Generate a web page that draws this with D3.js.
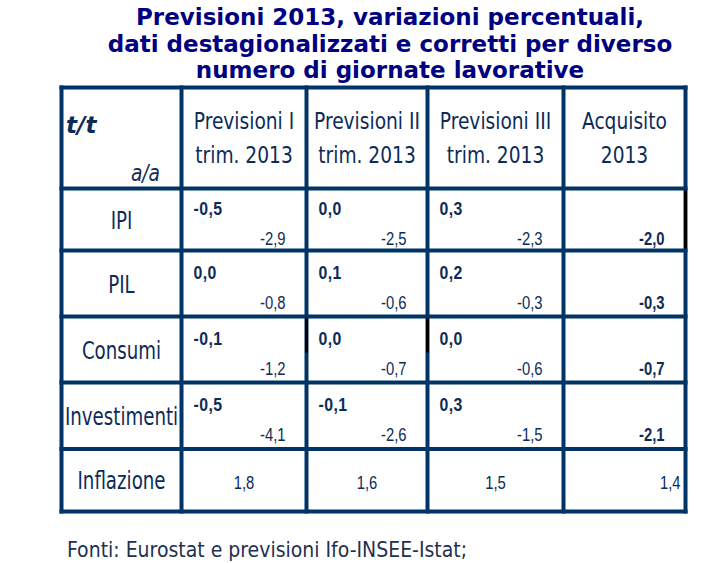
<!DOCTYPE html>
<html><head><meta charset="utf-8">
<script src="https://cdn.jsdelivr.net/npm/d3@7/dist/d3.min.js"></script>
<style>
html,body{margin:0;padding:0;background:#fff;}
svg{display:block;}
</style></head>
<body>
<svg id="chart" width="710" height="563"></svg>
<script>
// ---- data ----
const titleLines = ["Previsioni 2013, variazioni percentuali,", "dati destagionalizzati e corretti per diverso", "numero di giornate lavorative"];
const columnHeaders = [["Previsioni I", "trim. 2013"], ["Previsioni II", "trim. 2013"], ["Previsioni III", "trim. 2013"], ["Acquisito", "2013"]];
const rowLabels = ["IPI", "PIL", "Consumi", "Investimenti"];
const ttPrevI   = [-0.5, 0.0, -0.1, -0.5];
const ttPrevII  = [0.0, 0.1, 0.0, -0.1];
const ttPrevIII = [0.3, 0.2, 0.0, 0.3];
const aaPrevI   = [-2.9, -0.8, -1.2, -4.1];
const aaPrevII  = [-2.5, -0.6, -0.7, -2.6];
const aaPrevIII = [-2.3, -0.3, -0.6, -1.5];
const aaAcquisito = [-2.0, -0.3, -0.7, -2.1];
const inflazioneLabel = "Inflazione";
const inflazione = [1.8, 1.6, 1.5, 1.4];
const source = "Fonti: Eurostat e previsioni Ifo-INSEE-Istat;";

// ---- layout ----
const svg = d3.select("#chart");
const lineColor = "#003366";
const textColor = "#0d2b57";
const colEdges = [61.5, 181.5, 306.5, 427.5, 563.5, 685.5];
const rowEdges = [87.5, 188.5, 250.5, 316.5, 382.5, 449, 511.5];
const fmt = v => d3.format(".1f")(v).replace("\u2212", "-").replace(".", ",");
const colKeys = ["label", "c1", "c2", "c3", "c4"];
const rowKeys = ["head", "r0", "r1", "r2", "r3", "infl"];
const x = d3.scaleOrdinal().domain(colKeys).range(colEdges.slice(0, 5));
const xEnd = d3.scaleOrdinal().domain(colKeys).range(colEdges.slice(1));
const y = d3.scaleOrdinal().domain(rowKeys).range(rowEdges.slice(0, 6));
const yEnd = d3.scaleOrdinal().domain(rowKeys).range(rowEdges.slice(1));
const cx = k => (x(k) + xEnd(k)) / 2;
const cy = k => (y(k) + yEnd(k)) / 2;
const place = (px, py, sx) => `translate(${px},${py}) scale(${sx},1)`;

// title
svg.append("g").selectAll("text").data(titleLines).join("text")
  .attr("x", 390).attr("y", (d, i) => 25 + i * 26.5)
  .attr("text-anchor", "middle")
  .attr("font-family", "DejaVu Sans, Verdana, sans-serif")
  .attr("font-weight", "bold").attr("font-size", 23)
  .attr("fill", "#000080").text(d => d);

// grid lines
const grid = svg.append("g").attr("stroke", lineColor).attr("stroke-width", 4);
grid.selectAll("line.v").data(colEdges).join("line").attr("class", "v")
  .attr("x1", d => d).attr("x2", d => d).attr("y1", rowEdges[0] - 2).attr("y2", rowEdges[6] + 2);
grid.selectAll("line.h").data(rowEdges).join("line").attr("class", "h")
  .attr("y1", d => d).attr("y2", d => d).attr("x1", colEdges[0] - 2).attr("x2", colEdges[5] + 2);
// small black artefacts on borders
const blk = svg.append("g").attr("stroke", "#000").attr("stroke-width", 3);
blk.append("line").attr("x1", colEdges[5]).attr("x2", colEdges[5]).attr("y1", y("r0") + 2).attr("y2", yEnd("r0") - 2);
[colEdges[2], colEdges[3]].forEach(xx =>
  blk.append("line").attr("x1", xx).attr("x2", xx).attr("y1", y("r2") + 2).attr("y2", y("r2") + 36));

const tf = "DejaVu Sans Condensed, DejaVu Sans, sans-serif";
const nf = "Liberation Sans, Arial, sans-serif";

// header corner
svg.append("text").attr("transform", place(66, 133, 1))
  .attr("font-family", "DejaVu Sans, Verdana, sans-serif").attr("font-weight", "bold").attr("font-style", "italic")
  .attr("font-size", 23).attr("fill", textColor).text("t/t");
svg.append("text").attr("transform", place(160, 181, 0.9)).attr("text-anchor", "end")
  .attr("font-family", tf).attr("font-style", "italic")
  .attr("font-size", 23).attr("fill", textColor).text("a/a");

// column headers
const hg = svg.append("g");
columnHeaders.forEach((lines, i) => {
  const k = colKeys[i + 1];
  hg.selectAll(null).data(lines).join("text")
    .attr("transform", (d, j) => place(cx(k), 129 + j * 34, 0.9))
    .attr("text-anchor", "middle").attr("font-family", tf).attr("font-size", 23)
    .attr("fill", textColor).text(d => d);
});

// row labels
svg.append("g").selectAll("text").data(rowLabels.concat([inflazioneLabel])).join("text")
  .attr("transform", (d, i) => place(cx("label"), cy(rowKeys[i + 1]) + 9, 0.81))
  .attr("text-anchor", "middle").attr("font-family", tf).attr("font-size", 25)
  .attr("fill", textColor).text(d => d);

// t/t and a/a values
const ttCols = [ttPrevI, ttPrevII, ttPrevIII];
const aaCols = [aaPrevI, aaPrevII, aaPrevIII, aaAcquisito];
const vg = svg.append("g").attr("font-family", nf).attr("fill", textColor);
ttCols.forEach((vals, i) => {
  const k = colKeys[i + 1];
  vg.selectAll(null).data(vals).join("text")
    .attr("transform", (d, r) => place(x(k) + 12, cy(rowKeys[r + 1]) - 5, 0.88))
    .attr("font-size", 18).attr("font-weight", "bold").attr("letter-spacing", 0.5)
    .text(d => fmt(d));
});
aaCols.forEach((vals, i) => {
  const k = colKeys[i + 1];
  vg.selectAll(null).data(vals).join("text")
    .attr("transform", (d, r) => place(xEnd(k) - 21, cy(rowKeys[r + 1]) + 25, 0.78))
    .attr("text-anchor", "end").attr("font-size", 19)
    .attr("font-weight", i === 3 ? "bold" : "normal").text(d => fmt(d));
});
// inflazione
vg.selectAll(null).data(inflazione).join("text")
  .attr("transform", (d, i) => place(i === 3 ? xEnd("c4") - 5 : cx(colKeys[i + 1]), cy("infl") + 9, 0.78))
  .attr("text-anchor", (d, i) => i === 3 ? "end" : "middle").attr("font-size", 19)
  .text(d => fmt(d));

// source
svg.append("text").attr("x", 67).attr("y", 557)
  .attr("font-family", tf).attr("font-size", 21).attr("fill", "#1f3050").text(source);
</script>
</body></html>
